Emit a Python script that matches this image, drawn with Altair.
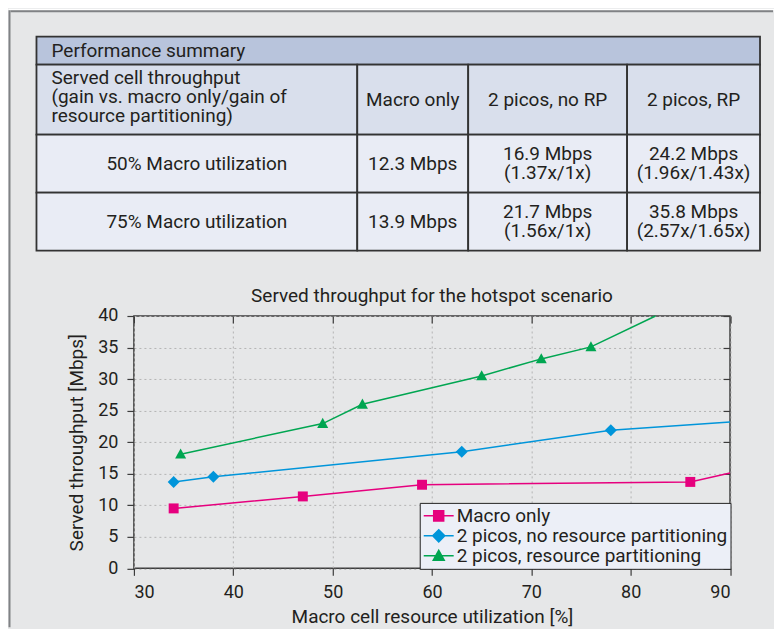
import altair as alt
import pandas as pd

FONT = "Roboto, sans-serif"

# ---------------- chart texts ----------------
chart_title = "Served throughput for the hotspot scenario"
x_title = "Macro cell resource utilization [%]"
y_title = "Served throughput [Mbps]"
x_ticks = [30, 40, 50, 60, 70, 80, 90]
y_ticks = [0, 5, 10, 15, 20, 25, 30, 35, 40]

series_names = ["Macro only", "2 picos, no resource partitioning", "2 picos, resource partitioning"]
series_colors = ["#e6007e", "#0095da", "#00a651"]

# ---------------- series values ----------------
macro_x = [34, 47, 59, 86, 90]
macro_y = [9.5, 11.4, 13.25, 13.7, 15.1]
macro_marker = [1, 1, 1, 1, 0]

no_rp_x = [34, 38, 63, 78, 90]
no_rp_y = [13.7, 14.5, 18.5, 21.9, 23.2]
no_rp_marker = [1, 1, 1, 1, 0]

rp_x = [34.7, 49, 53, 65, 71, 76, 82.5]
rp_y = [18.1, 22.95, 26.0, 30.5, 33.2, 35.1, 40.0]
rp_marker = [1, 1, 1, 1, 1, 1, 0]

# ---------------- table texts ----------------
table_title = "Performance summary"
col_headers = [
    "Served cell throughput\n(gain vs. macro only/gain of\nresource partitioning)",
    "Macro only",
    "2 picos, no RP",
    "2 picos, RP",
]
row_labels = ["50% Macro utilization", "75% Macro utilization"]
macro_only_mbps = [12.3, 13.9]
no_rp_mbps = [16.9, 21.7]
no_rp_gain = ["1.37x/1x", "1.56x/1x"]
rp_mbps = [24.2, 35.8]
rp_gain = ["1.96x/1.43x", "2.57x/1.65x"]

# ---------------- layout (page pixels) ----------------
PAGE_X1, PAGE_Y1 = 774, 628          # right / bottom edge of the drawing
PX0, PY0, PX1, PY1 = 133.5, 315.5, 730.0, 568.0
PLOT_W, PLOT_H = PX1 - PX0, PY1 - PY0
col_edges = [36, 357, 468, 627, 760]
row_edges = [36, 64, 134, 192, 250]
TEXT_PAD = 15
LINE_H = 19
FS = 19

PAGE_FILL = "#e6e7e8"
FRAME = "#808285"
HEADER_FILL = "#b8c4dc"
COLHEAD_FILL = "#d9dfec"
BODY_FILL = "#e9ecf5"
TABLE_STROKE = "#333333"
PLOT_FILL = "#dae0ee"
LEGEND_FILL = "#eceff7"
INK = "#231f20"

# page-pixel scales (used for table, frame and title)
PXS = alt.Scale(domain=[0, 1000], range=[-PX0, 1000 - PX0], nice=False, zero=False)
PYS = alt.Scale(domain=[0, 1000], range=[-PY0, 1000 - PY0], nice=False, zero=False)

# ---------------- series table ----------------
rows = []
for name, xs, ys, ms in zip(series_names, [macro_x, no_rp_x, rp_x],
                            [macro_y, no_rp_y, rp_y],
                            [macro_marker, no_rp_marker, rp_marker]):
    for i, (xv, yv, mv) in enumerate(zip(xs, ys, ms)):
        rows.append(dict(series=name, x=xv, y=yv, marker=mv, order=i))
df = pd.DataFrame(rows)

XS = alt.Scale(domain=[30, 90], nice=False, zero=False)
YS = alt.Scale(domain=[0, 40], nice=False, zero=False)


def cscale():
    return alt.Scale(domain=series_names, range=series_colors)


marker_paths = [
    "M-0.83,-0.83H0.83V0.83H-0.83Z",
    "M0,-1L1,0L0,1L-1,0Z",
    "M0,-0.95L0.92,0.72L-0.92,0.72Z",
]
# legend symbols: a short line with the marker on it (box = 18px, unit = 9px)
legend_paths = [
    "M-1,0H2.33M0.11,-0.56H1.22V0.56H0.11Z",
    "M-1,0H2.33M0.67,-0.67L1.34,0L0.67,0.67L0,0Z",
    "M-1,0H2.33M0.67,-0.62L1.28,0.5L0.06,0.5Z",
]

axis_common = dict(grid=True, gridDash=[2, 3], gridColor="#b4b4b4", gridWidth=1,
                   domain=False, tickSize=7, tickColor="#3c3c3c", tickWidth=1.2,
                   labelFontSize=18, labelColor=INK, titleFontSize=FS,
                   titleColor=INK, titleFontWeight="normal", labelFont=FONT,
                   titleFont=FONT)

lines = alt.Chart(df).mark_line(strokeWidth=1.5).encode(
    x=alt.X("x:Q", scale=XS,
            axis=alt.Axis(values=x_ticks, title=x_title, labelPadding=8,
                          titlePadding=6, **axis_common)),
    y=alt.Y("y:Q", scale=YS,
            axis=alt.Axis(values=y_ticks, title=y_title, labelPadding=9,
                          titlePadding=11, **axis_common)),
    color=alt.Color("series:N", scale=cscale(), legend=None),
    order="order:Q",
)

mirror = dict(labels=False, title=None, grid=False, domain=False, tickSize=7,
              tickColor="#3c3c3c", tickWidth=1.2, offset=-7)
points = alt.Chart(df).transform_filter("datum.marker == 1").mark_point(
    filled=True, size=144, opacity=1
).encode(
    x=alt.X("x:Q", scale=XS, axis=alt.Axis(orient="top", values=x_ticks, **mirror)),
    y=alt.Y("y:Q", scale=YS, axis=alt.Axis(orient="right", values=y_ticks, **mirror)),
    color=alt.Color("series:N", scale=cscale(), legend=None),
    shape=alt.Shape("series:N", scale=alt.Scale(domain=series_names, range=marker_paths),
                    legend=None),
)

leg = alt.Legend(orient="bottom-right", title=None, offset=0, padding=3,
                 fillColor=LEGEND_FILL, strokeColor="#222222", symbolSize=324,
                 symbolStrokeWidth=1.5, labelOffset=14, labelFontSize=FS,
                 labelFont=FONT, labelColor=INK, rowPadding=0, labelLimit=0)
legend_layer = alt.Chart(df).transform_filter("false").mark_point(
    filled=True, opacity=1, strokeWidth=1.5
).encode(
    fill=alt.Fill("series:N", scale=cscale(), legend=leg),
    stroke=alt.Stroke("series:N", scale=cscale(), legend=leg),
    shape=alt.Shape("series:N", scale=alt.Scale(domain=series_names, range=legend_paths),
                    legend=leg),
)

# ---------------- page frame ----------------
frame_rects = pd.DataFrame([dict(x=8, x2=PAGE_X1, y=8, y2=9.5, fill="#ffffff")])
frame = alt.Chart(frame_rects).mark_rect().encode(
    x=alt.X("x:Q", scale=PXS, axis=None), x2="x2:Q",
    y=alt.Y("y:Q", scale=PYS, axis=None), y2="y2:Q",
    fill=alt.Fill("fill:N", scale=None),
)
frame_rules = pd.DataFrame([
    dict(x=9, x2=9, y=9.5, y2=PAGE_Y1 - 1),
    dict(x=10, x2=PAGE_X1 - 1, y=10.5, y2=10.5),
])
frame_lines = alt.Chart(frame_rules).mark_rule(color=FRAME, strokeWidth=2).encode(
    x=alt.X("x:Q", scale=PXS, axis=None), x2="x2:Q",
    y=alt.Y("y:Q", scale=PYS, axis=None), y2="y2:Q",
)

# ---------------- table ----------------
cells = [dict(x=col_edges[0], x2=col_edges[-1], y=row_edges[0], y2=row_edges[1],
              fill=HEADER_FILL)]
for r in range(1, 4):
    for c in range(4):
        cells.append(dict(x=col_edges[c], x2=col_edges[c + 1], y=row_edges[r],
                          y2=row_edges[r + 1],
                          fill=COLHEAD_FILL if r == 1 else BODY_FILL))
table_rects = alt.Chart(pd.DataFrame(cells)).mark_rect(
    stroke=TABLE_STROKE, strokeWidth=1.8
).encode(
    x=alt.X("x:Q", scale=PXS, axis=None), x2="x2:Q",
    y=alt.Y("y:Q", scale=PYS, axis=None), y2="y2:Q",
    fill=alt.Fill("fill:N", scale=None),
)


def mid(a, i):
    return (a[i] + a[i + 1]) / 2


def cell_text(x, yc, text):
    n = text.count("\n")
    return dict(x=x, y=yc - n * LINE_H / 2, text=text)


left_texts = [
    cell_text(col_edges[0] + TEXT_PAD, mid(row_edges, 0), table_title),
    cell_text(col_edges[0] + TEXT_PAD, mid(row_edges, 1) - 3, col_headers[0]),
]
center_texts = []
for c in range(1, 4):
    center_texts.append(cell_text(mid(col_edges, c), mid(row_edges, 1), col_headers[c]))
for r in range(2):
    ry = mid(row_edges, 2 + r)
    center_texts.append(cell_text(mid(col_edges, 0), ry, row_labels[r]))
    center_texts.append(cell_text(mid(col_edges, 1), ry, f"{macro_only_mbps[r]} Mbps"))
    center_texts.append(cell_text(mid(col_edges, 2), ry,
                                  f"{no_rp_mbps[r]} Mbps\n({no_rp_gain[r]})"))
    center_texts.append(cell_text(mid(col_edges, 3), ry,
                                  f"{rp_mbps[r]} Mbps\n({rp_gain[r]})"))
# chart title, centred over the plot
center_texts.append(cell_text((PX0 + PX1) / 2, PY0 - 20, chart_title))


def text_layer(data, align):
    return alt.Chart(pd.DataFrame(data)).mark_text(
        align=align, baseline="middle", lineBreak="\n", lineHeight=LINE_H,
        fontSize=FS, font=FONT, color=INK
    ).encode(
        x=alt.X("x:Q", scale=PXS, axis=None),
        y=alt.Y("y:Q", scale=PYS, axis=None),
        text="text:N",
    )


bounds = alt.Chart(pd.DataFrame([dict(x=8, x2=PAGE_X1, y=8, y2=PAGE_Y1)])).mark_rect(
    opacity=0
).encode(
    x=alt.X("x:Q", scale=PXS, axis=None), x2="x2:Q",
    y=alt.Y("y:Q", scale=PYS, axis=None), y2="y2:Q",
)

chart = alt.layer(
    bounds, frame, frame_lines, table_rects,
    text_layer(left_texts, "left"), text_layer(center_texts, "center"),
    lines, points, legend_layer,
).resolve_scale(
    x="independent", y="independent", color="independent",
    shape="independent", fill="independent", stroke="independent",
).properties(
    width=PLOT_W, height=PLOT_H, padding=0, background=PAGE_FILL,
).configure(
    font=FONT,
).configure_view(
    fill=PLOT_FILL, stroke="#3c3c3c", strokeWidth=1.5,
)

chart.save("out.html", embed_options={"renderer": "svg", "actions": False})
